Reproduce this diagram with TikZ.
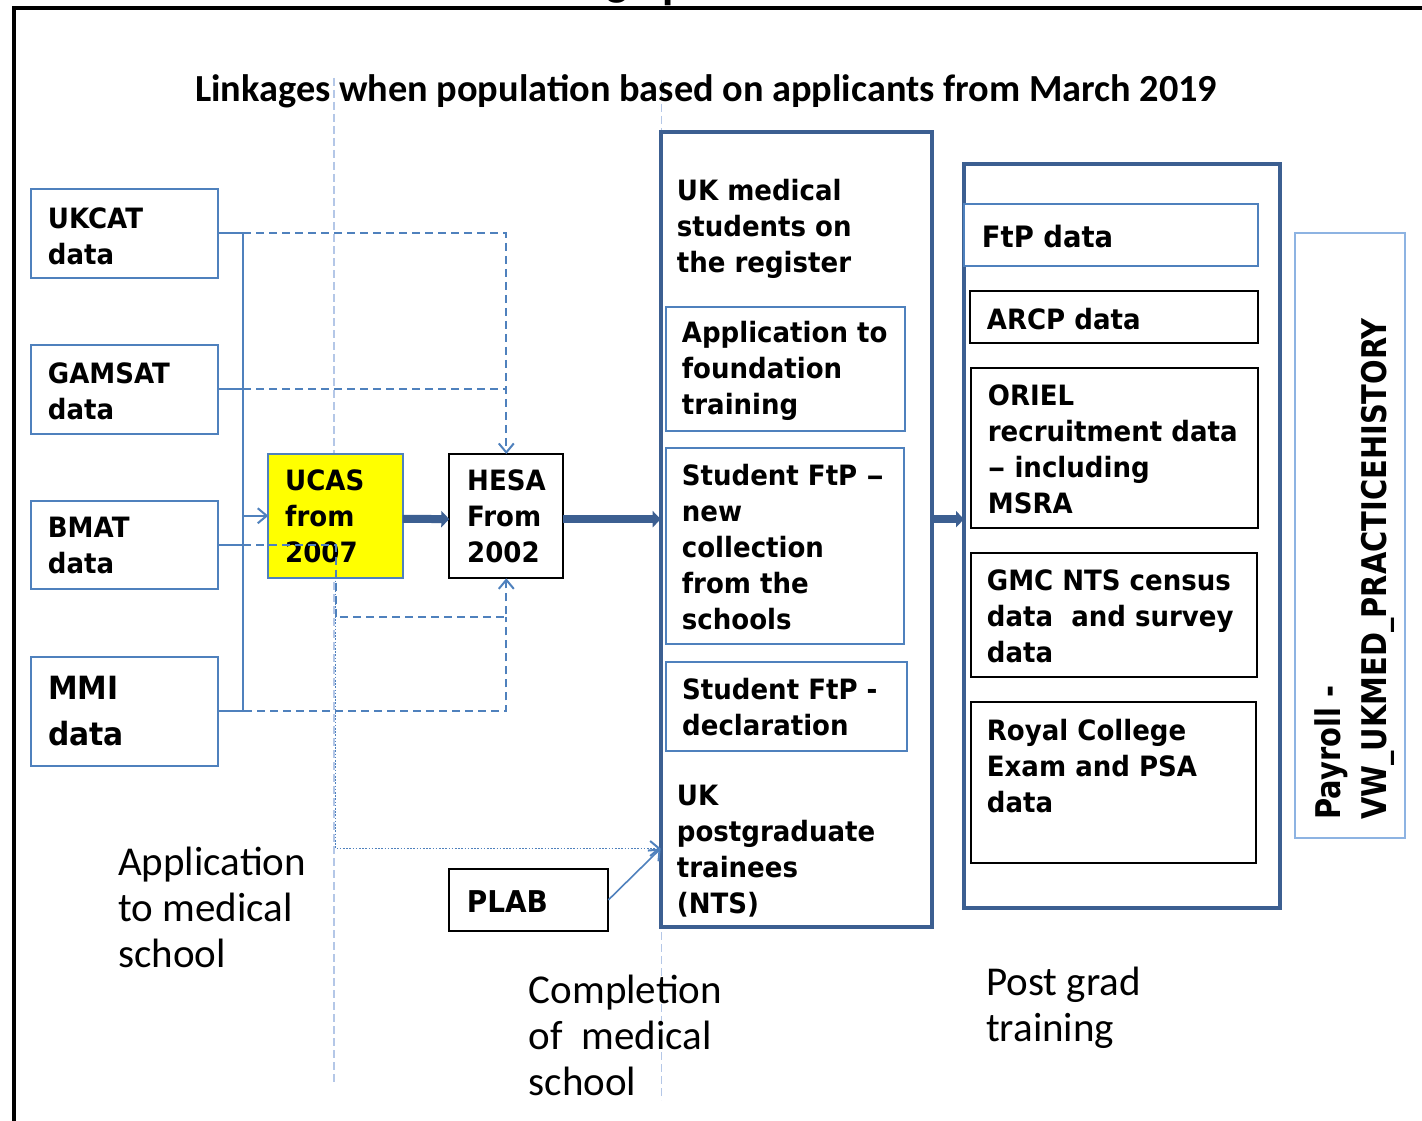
\documentclass[tikz,border=0pt]{standalone}
\usepackage{fontspec}
\usepackage{graphicx}
\setmainfont{DejaVu Sans}
\newfontfamily\boxfont{DejaVu Sans}[FakeStretch=0.93]
\newfontfamily\payfont{DejaVu Sans}[FakeStretch=0.85]
\newfontfamily\calfont{Carlito}
\usetikzlibrary{arrows.meta}

\definecolor{mblue}{RGB}{79,129,189}
\definecolor{dblue}{RGB}{60,95,145}
\definecolor{lblue}{RGB}{180,199,231}
\definecolor{pblue}{RGB}{141,179,226}
\definecolor{ucasyellow}{RGB}{255,255,0}

% left-aligned block of lines whose reference point is the first baseline
\newcommand\stacklines[1]{\begin{tabular}[t]{@{}l@{}}#1\end{tabular}}
% a slightly widened en dash
\newcommand\wdash{\scalebox{1.35}[1]{–}}

\tikzset{
  box/.style={inner sep=0pt, outer sep=0pt, anchor=north west, line width=2pt, fill=white},
  bluebox/.style={box, draw=mblue},
  blackbox/.style={box, draw=black},
  bigbox/.style={inner sep=0pt, outer sep=0pt, anchor=north west, line width=4pt, draw=dblue},
  paybox/.style={inner sep=0pt, outer sep=0pt, anchor=north west, line width=2pt, draw=pblue},
  txt/.style={inner sep=0pt, anchor=base west, font=\boxfont\bfseries\fontsize{28}{36}\selectfont},
  captxt/.style={inner sep=0pt, anchor=base west, font=\calfont\fontsize{41}{46}\selectfont},
  guide/.style={draw=lblue, line width=1.5pt, dash pattern=on 8pt off 4pt},
  link/.style={draw=mblue, line width=2pt},
  dlink/.style={link, dash pattern=on 8pt off 5pt},
  olink/.style={draw=mblue, line width=1.6pt, dash pattern=on 1.6pt off 1.6pt},
  barb/.style={-{Straight Barb[length=9pt,width=15pt,line width=2pt]}},
  flow/.style={draw=dblue, line width=8pt, -{Triangle[length=8pt,width=16pt]}},
}

\begin{document}
\begin{tikzpicture}[x=1pt,y=-1pt]
\useasboundingbox (0,0) rectangle (1422,1121);
\fill[white] (0,0) rectangle (1422,1121);

% descenders of the heading cut off by the top edge
\node[inner sep=0pt, anchor=base west, font=\calfont\bfseries\fontsize{46}{50}\selectfont] (cutg) at (606,-4) {g};
\node[inner sep=0pt, anchor=base west, font=\calfont\bfseries\fontsize{46}{50}\selectfont] (cutp) at (662,-1) {p};

% frame
\draw[line width=4pt] (13.5,1125) -- (13.5,8) -- (1426,8);

% stage separators
\coordinate (gA1) at (334,78);  \coordinate (gA2) at (334,1083);
\coordinate (gB1) at (661.5,80); \coordinate (gB2) at (661.5,1100);
\draw[guide] (gA1) -- (gA2);
\draw[guide] (gB1) -- (gB2);

% heading
\node[inner sep=0pt, anchor=base west, font=\calfont\bfseries\fontsize{38.3}{42}\selectfont] (title) at (195,102)
  {Linkages when population based on applicants from March 2019};

% admission test data
\node[bluebox, minimum width=187pt, minimum height=88.5pt] (ukcat)  at (31,189) {};
\node[bluebox, minimum width=187pt, minimum height=88.5pt] (gamsat) at (31,345) {};
\node[bluebox, minimum width=187pt, minimum height=88pt]   (bmat)   at (31,501) {};
\node[bluebox, minimum width=187pt, minimum height=109pt]  (mmi)    at (31,656.6) {};
\node[txt] (ukcatT)  at (47.7,228.5) {\stacklines{UKCAT\\data}};
\node[txt] (gamsatT) at (47.7,383.4) {\stacklines{GAMSAT\\data}};
\node[txt] (bmatT)   at (47.7,537.6) {\stacklines{BMAT\\data}};
\node[txt, font=\boxfont\bfseries\fontsize{32}{46}\selectfont] (mmiT) at (48,699.6) {\stacklines{MMI\\data}};

% UCAS and HESA
\node[bluebox, fill=ucasyellow, minimum width=134.4pt, minimum height=123.5pt] (ucas) at (268.3,454) {};
\node[blackbox, minimum width=114pt, minimum height=124.3pt] (hesa) at (449.3,454) {};
\node[txt] (ucasT) at (285,490.5) {\stacklines{UCAS\\from\\2007}};
\node[txt] (hesaT) at (467,490.5) {\stacklines{HESA\\From\\2002}};

% PLAB
\node[blackbox, minimum width=159pt, minimum height=61.4pt] (plab) at (449.3,869.3) {};
\node[txt, font=\boxfont\bfseries\fontsize{30}{36}\selectfont] (plabT) at (466.7,912.3) {PLAB};

% solid links from test data into UCAS
\coordinate (busT) at (243,233.25);
\coordinate (busB) at (243,711.1);
\draw[link] (ukcat.east) -- (busT) -- (busB) -- (mmi.east);
\draw[link] (gamsat.east) -- (gamsat.east -| busT);
\draw[link] (bmat.east) -- (bmat.east -| busT);
\draw[link, barb] (ucas.west -| busT) -- (ucas.west);

% dashed links from test data into HESA
\coordinate (jn) at (ucas.south |- 0,617);
\draw[dlink, barb] (busT) -| (hesa.north);
\draw[dlink] (gamsat.east -| busT) -- (gamsat.east -| hesa.north);
\draw[dlink, barb] (bmat.east -| busT) -- (bmat.east -| ucas.south) -- (jn) -| (hesa.south);
\draw[dlink] (mmi.east) -- (mmi.east -| hesa.south) -- (jn -| hesa.south);

% registration and training column
\node[bigbox, minimum width=271pt, minimum height=795pt] (reg) at (660.7,131.7) {};
\node[bluebox, minimum width=239.3pt, minimum height=124pt]   (fapp)  at (665.7,306.7) {};
\node[bluebox, minimum width=238.3pt, minimum height=196.3pt] (ftpnew) at (665.7,447.7) {};
\node[bluebox, minimum width=240.7pt, minimum height=88.7pt]  (ftpdec) at (666,662) {};
\node[txt] (ukmedT)  at (676.7,200.7) {\stacklines{UK medical\\students on\\the register}};
\node[txt] (fappT)   at (681.7,342.3) {\stacklines{Application to\\foundation\\training}};
\node[txt] (ftpnewT) at (681.7,485) {\stacklines{Student FtP \wdash\\new\\collection\\from the\\schools}};
\node[txt] (ftpdecT) at (682,699) {\stacklines{Student FtP -\\declaration}};
\node[txt] (ntsT)    at (676.7,805) {\stacklines{UK\\postgraduate\\trainees\\(NTS)}};

% postgraduate column
\node[bigbox, minimum width=316pt, minimum height=744.3pt] (pg) at (964,164) {};
\node[bluebox, minimum width=294pt, minimum height=62pt]      (ftpd)  at (964,204) {};
\node[blackbox, minimum width=288pt, minimum height=52pt]     (arcp)  at (970,291) {};
\node[blackbox, minimum width=287pt, minimum height=159.7pt]  (oriel) at (971,368) {};
\node[blackbox, minimum width=286.3pt, minimum height=124pt]  (gmc)   at (970.7,553) {};
\node[blackbox, minimum width=285.3pt, minimum height=160.7pt] (rcol) at (970.7,702) {};
\node[txt, font=\boxfont\bfseries\fontsize{29.5}{36}\selectfont] (ftpdT) at (981.7,247) {FtP data};
\node[txt] (arcpT)  at (986.7,329) {ARCP data};
\node[txt] (orielT) at (987.7,405) {\stacklines{ORIEL\\recruitment data\\\wdash{} including\\MSRA}};
\node[txt] (gmcT)   at (986.7,590) {\stacklines{GMC NTS census\\data~~and survey\\data}};
\node[txt] (rcolT)  at (986.7,740) {\stacklines{Royal College\\Exam and PSA\\data}};

% payroll
\node[paybox, minimum width=110pt, minimum height=605.6pt] (pay) at (1295,232.7) {};
\node[inner sep=0pt, anchor=base west, rotate=90, font=\payfont\bfseries\fontsize{34}{46.7}\selectfont]
  (payT) at (1340,820) {\stacklines{Payroll -\\VW\_UKMED\_PRACTICEHISTORY}};

% main flow
\draw[flow] ([yshift=-3pt]ucas.east) -- ([yshift=-3pt]hesa.west);
\draw[flow] ([yshift=-3pt]hesa.east) -- ([yshift=-3pt]hesa.east -| reg.west);
\draw[flow] ([yshift=-3pt]hesa.east -| reg.east) -- ([yshift=-3pt]hesa.east -| pg.west);

% links into the postgraduate trainee records
\coordinate (ntsin) at (reg.west |- 0,848.5);
\draw[olink, barb] (ucas.south) |- (ntsin);
\draw[link, line width=1.6pt, barb] (plab.east) -- (ntsin);

% stage captions
\node[captxt] (capA) at (118,875)    {\stacklines{Application\\to medical\\school}};
\node[captxt] (capB) at (528.6,1003.3) {\stacklines{Completion\\of~~medical\\school}};
\node[captxt] (capC) at (986,995)    {\stacklines{Post grad\\training}};
\end{tikzpicture}
\end{document}
